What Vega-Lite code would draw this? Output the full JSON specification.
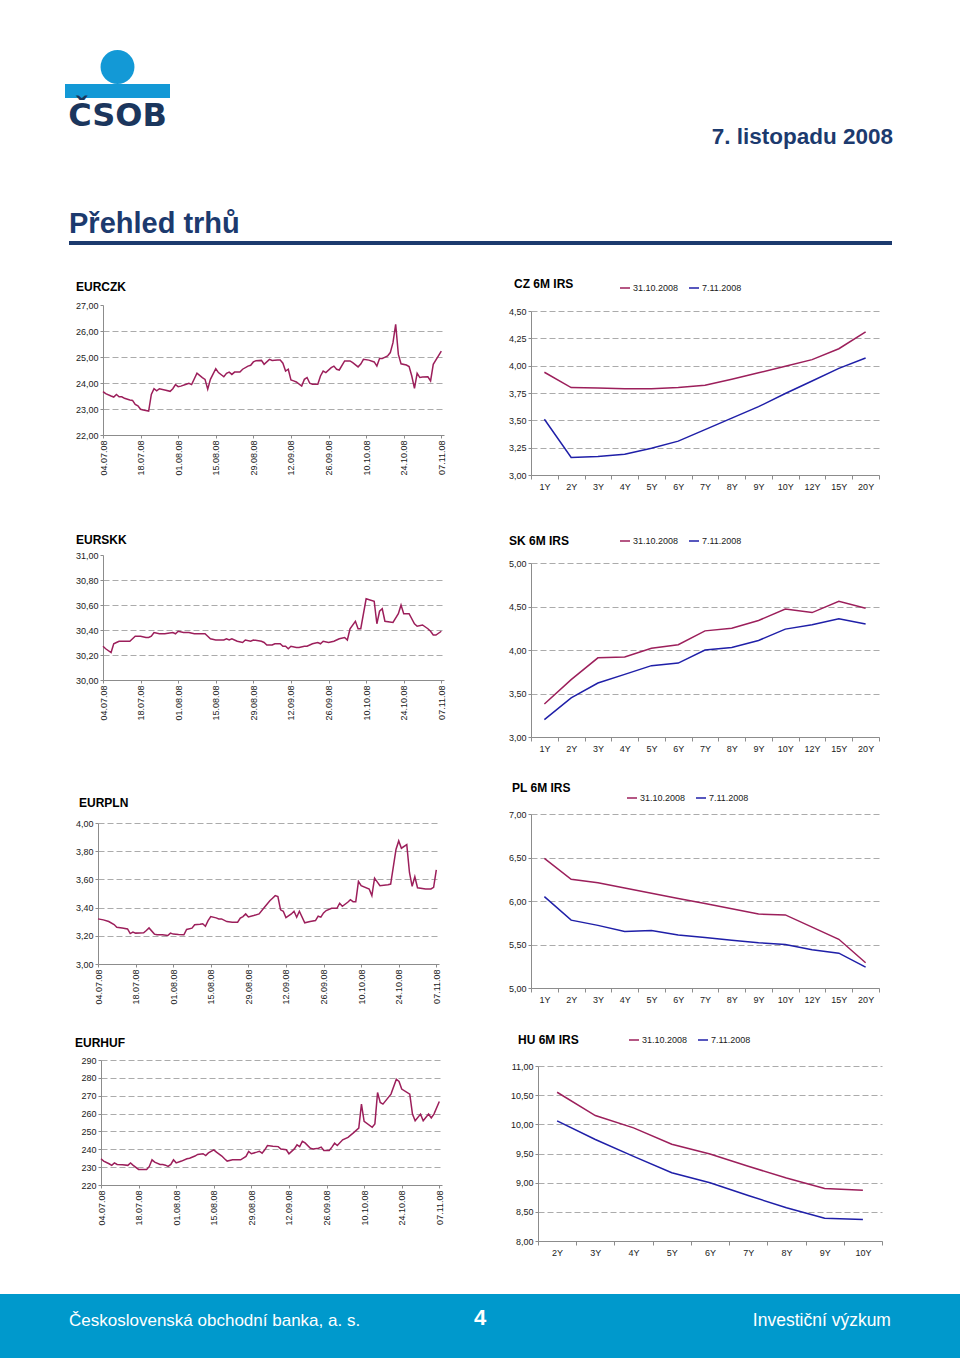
{
"$schema": "https://vega.github.io/schema/vega-lite/v6.json",
"background": "white",
"padding": {"left": 0, "top": 50, "right": 0, "bottom": 0},
"spacing": 0,
"resolve": {"scale": {"color": "independent"}, "legend": {"color": "independent"}},
"config": {
  "concat": {"spacing": 0},
  "view": {"stroke": null},
  "font": "Liberation Sans",
  "axis": {"labelFont": "Liberation Sans", "labelFontSize": 9, "labelColor": "#1a1a1a", "domainColor": "#8c8c8c", "tickColor": "#8c8c8c", "tickSize": 3, "labelPadding": 2, "gridColor": "#ababab", "gridDash": [6, 3], "gridWidth": 1},
  "title": {"font": "Liberation Sans", "fontSize": 12, "fontWeight": "bold", "anchor": "start", "color": "#000000", "frame": "group"},
  "legend": {"labelFont": "Liberation Sans", "labelFontSize": 9, "labelColor": "#1a1a1a"}
},
"datasets": {
  "eurczk": [{"d":"2008-07-04","v":23.67},{"d":"2008-07-05","v":23.59},{"d":"2008-07-07","v":23.50},{"d":"2008-07-08","v":23.46},{"d":"2008-07-09","v":23.56},{"d":"2008-07-10","v":23.47},{"d":"2008-07-11","v":23.47},{"d":"2008-07-12","v":23.41},{"d":"2008-07-14","v":23.35},{"d":"2008-07-15","v":23.33},{"d":"2008-07-16","v":23.18},{"d":"2008-07-17","v":23.12},{"d":"2008-07-18","v":22.99},{"d":"2008-07-19","v":22.96},{"d":"2008-07-21","v":22.92},{"d":"2008-07-22","v":23.56},{"d":"2008-07-23","v":23.78},{"d":"2008-07-24","v":23.70},{"d":"2008-07-25","v":23.78},{"d":"2008-07-27","v":23.73},{"d":"2008-07-29","v":23.68},{"d":"2008-07-30","v":23.78},{"d":"2008-07-31","v":23.94},{"d":"2008-08-01","v":23.86},{"d":"2008-08-02","v":23.88},{"d":"2008-08-04","v":23.95},{"d":"2008-08-05","v":23.99},{"d":"2008-08-06","v":23.94},{"d":"2008-08-08","v":24.38},{"d":"2008-08-10","v":24.21},{"d":"2008-08-11","v":24.14},{"d":"2008-08-12","v":23.76},{"d":"2008-08-13","v":24.14},{"d":"2008-08-15","v":24.55},{"d":"2008-08-16","v":24.40},{"d":"2008-08-18","v":24.24},{"d":"2008-08-19","v":24.37},{"d":"2008-08-20","v":24.42},{"d":"2008-08-21","v":24.33},{"d":"2008-08-22","v":24.42},{"d":"2008-08-24","v":24.42},{"d":"2008-08-25","v":24.53},{"d":"2008-08-27","v":24.65},{"d":"2008-08-28","v":24.68},{"d":"2008-08-29","v":24.81},{"d":"2008-08-30","v":24.86},{"d":"2008-09-01","v":24.87},{"d":"2008-09-02","v":24.72},{"d":"2008-09-04","v":24.91},{"d":"2008-09-05","v":24.87},{"d":"2008-09-07","v":24.88},{"d":"2008-09-08","v":24.88},{"d":"2008-09-09","v":24.76},{"d":"2008-09-10","v":24.46},{"d":"2008-09-11","v":24.53},{"d":"2008-09-12","v":24.12},{"d":"2008-09-13","v":24.08},{"d":"2008-09-14","v":24.04},{"d":"2008-09-16","v":23.88},{"d":"2008-09-17","v":24.14},{"d":"2008-09-18","v":24.21},{"d":"2008-09-19","v":23.99},{"d":"2008-09-20","v":23.95},{"d":"2008-09-22","v":23.95},{"d":"2008-09-23","v":24.27},{"d":"2008-09-24","v":24.46},{"d":"2008-09-25","v":24.40},{"d":"2008-09-27","v":24.59},{"d":"2008-09-28","v":24.65},{"d":"2008-09-29","v":24.53},{"d":"2008-09-30","v":24.50},{"d":"2008-10-02","v":24.85},{"d":"2008-10-04","v":24.85},{"d":"2008-10-05","v":24.78},{"d":"2008-10-07","v":24.62},{"d":"2008-10-08","v":24.73},{"d":"2008-10-09","v":24.91},{"d":"2008-10-11","v":24.88},{"d":"2008-10-13","v":24.81},{"d":"2008-10-14","v":24.65},{"d":"2008-10-15","v":24.94},{"d":"2008-10-16","v":24.94},{"d":"2008-10-18","v":25.04},{"d":"2008-10-19","v":25.17},{"d":"2008-10-20","v":25.55},{"d":"2008-10-21","v":26.26},{"d":"2008-10-22","v":25.10},{"d":"2008-10-23","v":24.74},{"d":"2008-10-25","v":24.69},{"d":"2008-10-26","v":24.63},{"d":"2008-10-27","v":24.27},{"d":"2008-10-28","v":23.79},{"d":"2008-10-29","v":24.37},{"d":"2008-10-30","v":24.21},{"d":"2008-10-31","v":24.23},{"d":"2008-11-02","v":24.24},{"d":"2008-11-03","v":24.08},{"d":"2008-11-04","v":24.72},{"d":"2008-11-07","v":25.23}],
  "eurskk": [{"d":"2008-07-04","v":30.27},{"d":"2008-07-05","v":30.25},{"d":"2008-07-07","v":30.22},{"d":"2008-07-08","v":30.29},{"d":"2008-07-09","v":30.30},{"d":"2008-07-10","v":30.31},{"d":"2008-07-12","v":30.31},{"d":"2008-07-14","v":30.31},{"d":"2008-07-15","v":30.33},{"d":"2008-07-16","v":30.35},{"d":"2008-07-18","v":30.35},{"d":"2008-07-20","v":30.34},{"d":"2008-07-21","v":30.34},{"d":"2008-07-22","v":30.35},{"d":"2008-07-23","v":30.38},{"d":"2008-07-25","v":30.37},{"d":"2008-07-27","v":30.37},{"d":"2008-07-30","v":30.38},{"d":"2008-07-31","v":30.37},{"d":"2008-08-01","v":30.39},{"d":"2008-08-03","v":30.38},{"d":"2008-08-05","v":30.38},{"d":"2008-08-07","v":30.37},{"d":"2008-08-09","v":30.37},{"d":"2008-08-11","v":30.37},{"d":"2008-08-12","v":30.35},{"d":"2008-08-13","v":30.33},{"d":"2008-08-15","v":30.32},{"d":"2008-08-16","v":30.32},{"d":"2008-08-18","v":30.32},{"d":"2008-08-19","v":30.33},{"d":"2008-08-20","v":30.32},{"d":"2008-08-21","v":30.33},{"d":"2008-08-23","v":30.31},{"d":"2008-08-25","v":30.30},{"d":"2008-08-26","v":30.32},{"d":"2008-08-28","v":30.31},{"d":"2008-08-29","v":30.32},{"d":"2008-09-01","v":30.31},{"d":"2008-09-02","v":30.30},{"d":"2008-09-03","v":30.28},{"d":"2008-09-05","v":30.28},{"d":"2008-09-06","v":30.29},{"d":"2008-09-08","v":30.29},{"d":"2008-09-09","v":30.27},{"d":"2008-09-10","v":30.27},{"d":"2008-09-11","v":30.25},{"d":"2008-09-12","v":30.27},{"d":"2008-09-14","v":30.26},{"d":"2008-09-15","v":30.26},{"d":"2008-09-17","v":30.27},{"d":"2008-09-18","v":30.27},{"d":"2008-09-20","v":30.29},{"d":"2008-09-22","v":30.30},{"d":"2008-09-23","v":30.29},{"d":"2008-09-24","v":30.31},{"d":"2008-09-26","v":30.30},{"d":"2008-09-28","v":30.31},{"d":"2008-09-30","v":30.33},{"d":"2008-10-02","v":30.34},{"d":"2008-10-03","v":30.32},{"d":"2008-10-04","v":30.41},{"d":"2008-10-06","v":30.47},{"d":"2008-10-07","v":30.41},{"d":"2008-10-08","v":30.41},{"d":"2008-10-10","v":30.65},{"d":"2008-10-13","v":30.63},{"d":"2008-10-14","v":30.45},{"d":"2008-10-15","v":30.55},{"d":"2008-10-16","v":30.57},{"d":"2008-10-17","v":30.47},{"d":"2008-10-20","v":30.46},{"d":"2008-10-22","v":30.53},{"d":"2008-10-23","v":30.60},{"d":"2008-10-24","v":30.53},{"d":"2008-10-26","v":30.53},{"d":"2008-10-28","v":30.45},{"d":"2008-10-29","v":30.43},{"d":"2008-10-31","v":30.44},{"d":"2008-11-02","v":30.41},{"d":"2008-11-03","v":30.39},{"d":"2008-11-04","v":30.36},{"d":"2008-11-05","v":30.36},{"d":"2008-11-07","v":30.39}],
  "eurpln": [{"d":"2008-07-04","v":3.320},{"d":"2008-07-06","v":3.313},{"d":"2008-07-08","v":3.301},{"d":"2008-07-10","v":3.280},{"d":"2008-07-11","v":3.261},{"d":"2008-07-13","v":3.256},{"d":"2008-07-15","v":3.249},{"d":"2008-07-16","v":3.216},{"d":"2008-07-17","v":3.226},{"d":"2008-07-18","v":3.219},{"d":"2008-07-21","v":3.221},{"d":"2008-07-22","v":3.238},{"d":"2008-07-23","v":3.256},{"d":"2008-07-25","v":3.212},{"d":"2008-07-26","v":3.207},{"d":"2008-07-28","v":3.207},{"d":"2008-07-30","v":3.202},{"d":"2008-07-31","v":3.219},{"d":"2008-08-01","v":3.212},{"d":"2008-08-03","v":3.209},{"d":"2008-08-05","v":3.207},{"d":"2008-08-06","v":3.245},{"d":"2008-08-08","v":3.254},{"d":"2008-08-09","v":3.278},{"d":"2008-08-11","v":3.282},{"d":"2008-08-12","v":3.285},{"d":"2008-08-13","v":3.268},{"d":"2008-08-14","v":3.308},{"d":"2008-08-15","v":3.336},{"d":"2008-08-17","v":3.327},{"d":"2008-08-18","v":3.320},{"d":"2008-08-19","v":3.320},{"d":"2008-08-21","v":3.301},{"d":"2008-08-23","v":3.296},{"d":"2008-08-25","v":3.296},{"d":"2008-08-26","v":3.325},{"d":"2008-08-27","v":3.336},{"d":"2008-08-28","v":3.355},{"d":"2008-08-29","v":3.334},{"d":"2008-08-31","v":3.344},{"d":"2008-09-02","v":3.355},{"d":"2008-09-04","v":3.402},{"d":"2008-09-06","v":3.449},{"d":"2008-09-07","v":3.466},{"d":"2008-09-08","v":3.485},{"d":"2008-09-09","v":3.478},{"d":"2008-09-10","v":3.384},{"d":"2008-09-11","v":3.374},{"d":"2008-09-12","v":3.329},{"d":"2008-09-14","v":3.355},{"d":"2008-09-15","v":3.374},{"d":"2008-09-16","v":3.332},{"d":"2008-09-17","v":3.374},{"d":"2008-09-19","v":3.292},{"d":"2008-09-21","v":3.301},{"d":"2008-09-23","v":3.308},{"d":"2008-09-24","v":3.339},{"d":"2008-09-25","v":3.332},{"d":"2008-09-26","v":3.362},{"d":"2008-09-27","v":3.379},{"d":"2008-09-29","v":3.395},{"d":"2008-10-01","v":3.395},{"d":"2008-10-02","v":3.431},{"d":"2008-10-03","v":3.409},{"d":"2008-10-05","v":3.438},{"d":"2008-10-06","v":3.456},{"d":"2008-10-07","v":3.442},{"d":"2008-10-08","v":3.442},{"d":"2008-10-09","v":3.586},{"d":"2008-10-10","v":3.555},{"d":"2008-10-13","v":3.532},{"d":"2008-10-14","v":3.485},{"d":"2008-10-15","v":3.609},{"d":"2008-10-17","v":3.555},{"d":"2008-10-20","v":3.562},{"d":"2008-10-21","v":3.567},{"d":"2008-10-23","v":3.814},{"d":"2008-10-24","v":3.873},{"d":"2008-10-25","v":3.821},{"d":"2008-10-27","v":3.847},{"d":"2008-10-28","v":3.649},{"d":"2008-10-29","v":3.551},{"d":"2008-10-30","v":3.619},{"d":"2008-10-31","v":3.541},{"d":"2008-11-03","v":3.532},{"d":"2008-11-05","v":3.532},{"d":"2008-11-06","v":3.544},{"d":"2008-11-07","v":3.668}],
  "eurhuf": [{"d":"2008-07-04","v":234.7},{"d":"2008-07-05","v":233.4},{"d":"2008-07-07","v":231.9},{"d":"2008-07-08","v":231.0},{"d":"2008-07-09","v":232.4},{"d":"2008-07-10","v":231.5},{"d":"2008-07-12","v":231.3},{"d":"2008-07-14","v":231.0},{"d":"2008-07-15","v":232.3},{"d":"2008-07-16","v":231.0},{"d":"2008-07-18","v":228.7},{"d":"2008-07-20","v":228.7},{"d":"2008-07-21","v":228.7},{"d":"2008-07-22","v":230.4},{"d":"2008-07-23","v":234.1},{"d":"2008-07-24","v":232.8},{"d":"2008-07-26","v":231.5},{"d":"2008-07-27","v":231.5},{"d":"2008-07-28","v":231.1},{"d":"2008-07-29","v":230.4},{"d":"2008-07-30","v":231.5},{"d":"2008-07-31","v":234.1},{"d":"2008-08-01","v":232.4},{"d":"2008-08-03","v":233.4},{"d":"2008-08-05","v":234.7},{"d":"2008-08-06","v":235.0},{"d":"2008-08-08","v":236.2},{"d":"2008-08-09","v":237.1},{"d":"2008-08-11","v":237.5},{"d":"2008-08-12","v":236.5},{"d":"2008-08-13","v":238.0},{"d":"2008-08-15","v":239.7},{"d":"2008-08-16","v":238.4},{"d":"2008-08-18","v":236.2},{"d":"2008-08-19","v":234.7},{"d":"2008-08-20","v":233.4},{"d":"2008-08-22","v":234.1},{"d":"2008-08-23","v":234.1},{"d":"2008-08-25","v":234.1},{"d":"2008-08-27","v":236.0},{"d":"2008-08-28","v":238.8},{"d":"2008-08-29","v":237.5},{"d":"2008-08-31","v":238.4},{"d":"2008-09-01","v":238.9},{"d":"2008-09-02","v":237.8},{"d":"2008-09-03","v":239.7},{"d":"2008-09-04","v":242.1},{"d":"2008-09-06","v":241.7},{"d":"2008-09-08","v":241.5},{"d":"2008-09-09","v":240.1},{"d":"2008-09-11","v":239.7},{"d":"2008-09-12","v":237.5},{"d":"2008-09-14","v":240.2},{"d":"2008-09-15","v":242.5},{"d":"2008-09-16","v":241.5},{"d":"2008-09-17","v":244.5},{"d":"2008-09-18","v":243.6},{"d":"2008-09-20","v":240.6},{"d":"2008-09-21","v":240.2},{"d":"2008-09-23","v":240.6},{"d":"2008-09-24","v":241.2},{"d":"2008-09-25","v":239.3},{"d":"2008-09-27","v":239.3},{"d":"2008-09-28","v":241.2},{"d":"2008-09-29","v":243.4},{"d":"2008-09-30","v":242.1},{"d":"2008-10-02","v":245.3},{"d":"2008-10-04","v":246.7},{"d":"2008-10-06","v":249.2},{"d":"2008-10-08","v":251.9},{"d":"2008-10-09","v":265.3},{"d":"2008-10-10","v":255.7},{"d":"2008-10-13","v":252.3},{"d":"2008-10-14","v":254.2},{"d":"2008-10-15","v":271.8},{"d":"2008-10-16","v":266.2},{"d":"2008-10-17","v":265.3},{"d":"2008-10-20","v":270.9},{"d":"2008-10-22","v":279.2},{"d":"2008-10-23","v":278.0},{"d":"2008-10-24","v":273.7},{"d":"2008-10-27","v":270.9},{"d":"2008-10-28","v":259.7},{"d":"2008-10-29","v":256.0},{"d":"2008-10-31","v":259.7},{"d":"2008-11-01","v":256.0},{"d":"2008-11-03","v":259.7},{"d":"2008-11-04","v":257.5},{"d":"2008-11-05","v":259.7},{"d":"2008-11-07","v":266.8}],
  "cz": [{"t":"1Y","s":"31.10.2008","v":3.94},{"t":"2Y","s":"31.10.2008","v":3.80},{"t":"3Y","s":"31.10.2008","v":3.795},{"t":"4Y","s":"31.10.2008","v":3.79},{"t":"5Y","s":"31.10.2008","v":3.79},{"t":"6Y","s":"31.10.2008","v":3.80},{"t":"7Y","s":"31.10.2008","v":3.82},{"t":"8Y","s":"31.10.2008","v":3.875},{"t":"9Y","s":"31.10.2008","v":3.935},{"t":"10Y","s":"31.10.2008","v":3.995},{"t":"12Y","s":"31.10.2008","v":4.055},{"t":"15Y","s":"31.10.2008","v":4.155},{"t":"20Y","s":"31.10.2008","v":4.31},
         {"t":"1Y","s":"7.11.2008","v":3.51},{"t":"2Y","s":"7.11.2008","v":3.16},{"t":"3Y","s":"7.11.2008","v":3.17},{"t":"4Y","s":"7.11.2008","v":3.19},{"t":"5Y","s":"7.11.2008","v":3.245},{"t":"6Y","s":"7.11.2008","v":3.31},{"t":"7Y","s":"7.11.2008","v":3.415},{"t":"8Y","s":"7.11.2008","v":3.52},{"t":"9Y","s":"7.11.2008","v":3.625},{"t":"10Y","s":"7.11.2008","v":3.745},{"t":"12Y","s":"7.11.2008","v":3.86},{"t":"15Y","s":"7.11.2008","v":3.975},{"t":"20Y","s":"7.11.2008","v":4.07}],
  "sk": [{"t":"1Y","s":"31.10.2008","v":3.38},{"t":"2Y","s":"31.10.2008","v":3.66},{"t":"3Y","s":"31.10.2008","v":3.91},{"t":"4Y","s":"31.10.2008","v":3.92},{"t":"5Y","s":"31.10.2008","v":4.02},{"t":"6Y","s":"31.10.2008","v":4.06},{"t":"7Y","s":"31.10.2008","v":4.22},{"t":"8Y","s":"31.10.2008","v":4.25},{"t":"9Y","s":"31.10.2008","v":4.34},{"t":"10Y","s":"31.10.2008","v":4.47},{"t":"12Y","s":"31.10.2008","v":4.43},{"t":"15Y","s":"31.10.2008","v":4.56},{"t":"20Y","s":"31.10.2008","v":4.48},
         {"t":"1Y","s":"7.11.2008","v":3.20},{"t":"2Y","s":"7.11.2008","v":3.45},{"t":"3Y","s":"7.11.2008","v":3.62},{"t":"4Y","s":"7.11.2008","v":3.72},{"t":"5Y","s":"7.11.2008","v":3.82},{"t":"6Y","s":"7.11.2008","v":3.85},{"t":"7Y","s":"7.11.2008","v":4.00},{"t":"8Y","s":"7.11.2008","v":4.03},{"t":"9Y","s":"7.11.2008","v":4.11},{"t":"10Y","s":"7.11.2008","v":4.24},{"t":"12Y","s":"7.11.2008","v":4.29},{"t":"15Y","s":"7.11.2008","v":4.36},{"t":"20Y","s":"7.11.2008","v":4.30}],
  "pl": [{"t":"1Y","s":"31.10.2008","v":6.49},{"t":"2Y","s":"31.10.2008","v":6.25},{"t":"3Y","s":"31.10.2008","v":6.21},{"t":"4Y","s":"31.10.2008","v":6.15},{"t":"5Y","s":"31.10.2008","v":6.09},{"t":"6Y","s":"31.10.2008","v":6.03},{"t":"7Y","s":"31.10.2008","v":5.97},{"t":"8Y","s":"31.10.2008","v":5.91},{"t":"9Y","s":"31.10.2008","v":5.85},{"t":"10Y","s":"31.10.2008","v":5.84},{"t":"12Y","s":"31.10.2008","v":5.70},{"t":"15Y","s":"31.10.2008","v":5.56},{"t":"20Y","s":"31.10.2008","v":5.29},
         {"t":"1Y","s":"7.11.2008","v":6.05},{"t":"2Y","s":"7.11.2008","v":5.78},{"t":"3Y","s":"7.11.2008","v":5.72},{"t":"4Y","s":"7.11.2008","v":5.65},{"t":"5Y","s":"7.11.2008","v":5.66},{"t":"6Y","s":"7.11.2008","v":5.61},{"t":"7Y","s":"7.11.2008","v":5.58},{"t":"8Y","s":"7.11.2008","v":5.55},{"t":"9Y","s":"7.11.2008","v":5.52},{"t":"10Y","s":"7.11.2008","v":5.50},{"t":"12Y","s":"7.11.2008","v":5.44},{"t":"15Y","s":"7.11.2008","v":5.40},{"t":"20Y","s":"7.11.2008","v":5.24}],
  "hu": [{"t":"2Y","s":"31.10.2008","v":10.55},{"t":"3Y","s":"31.10.2008","v":10.15},{"t":"4Y","s":"31.10.2008","v":9.94},{"t":"5Y","s":"31.10.2008","v":9.66},{"t":"6Y","s":"31.10.2008","v":9.49},{"t":"7Y","s":"31.10.2008","v":9.28},{"t":"8Y","s":"31.10.2008","v":9.08},{"t":"9Y","s":"31.10.2008","v":8.90},{"t":"10Y","s":"31.10.2008","v":8.87},
         {"t":"2Y","s":"7.11.2008","v":10.06},{"t":"3Y","s":"7.11.2008","v":9.74},{"t":"4Y","s":"7.11.2008","v":9.45},{"t":"5Y","s":"7.11.2008","v":9.17},{"t":"6Y","s":"7.11.2008","v":9.00},{"t":"7Y","s":"7.11.2008","v":8.78},{"t":"8Y","s":"7.11.2008","v":8.57},{"t":"9Y","s":"7.11.2008","v":8.39},{"t":"10Y","s":"7.11.2008","v":8.37}]
},
"vconcat": [
  {"hconcat": [
    {"width": 65, "height": 1, "data": {"values": []}, "mark": "point"},
    {"vconcat": [
      {"width": 105, "height": 34, "data": {"values": [{}]}, "mark": {"type": "point", "shape": "circle", "filled": true, "size": 1150, "color": "#1399d6", "opacity": 1}, "encoding": {}},
      {"width": 105, "height": 14, "data": {"values": []}, "mark": "point", "view": {"fill": "#1399d6", "stroke": null},
       "title": {"text": "ČSOB", "orient": "bottom", "anchor": "middle", "font": "DejaVu Sans", "fontSize": 32, "fontWeight": "bold", "color": "#1b365d", "offset": 3}}
    ]},
    {"width": 723, "height": 72, "data": {"values": []}, "mark": "point",
     "title": {"text": "7. listopadu 2008", "orient": "bottom", "anchor": "end", "font": "Liberation Sans", "fontSize": 22.5, "fontWeight": "bold", "color": "#1c3a6e", "offset": 4}}
  ]},
  {"width": 1, "height": 61, "data": {"values": []}, "mark": "point"},
  {"hconcat": [
    {"width": 69, "height": 1, "data": {"values": []}, "mark": "point"},
    {"width": 823, "height": 4, "data": {"values": []}, "mark": "point", "view": {"fill": "#1c3a6e", "stroke": null},
     "title": {"text": "Přehled trhů", "anchor": "start", "font": "Liberation Sans", "fontSize": 29, "fontWeight": "bold", "color": "#1c3a6e", "offset": 2}}
  ]},
  {"width": 1, "height": 32, "data": {"values": []}, "mark": "point"},
  {"resolve": {"scale": {"color": "independent"}, "legend": {"color": "independent"}},
   "hconcat": [
    {"width": 75, "height": 1, "data": {"values": []}, "mark": "point"},
    {"vconcat": [
      {"width": 1, "height": 4, "data": {"values": []}, "mark": "point"},
      {"width": 341, "height": 130, "title": {"text": "EURCZK", "dx": -27, "offset": 7},
       "data": {"name": "eurczk"},
       "mark": {"type": "line", "color": "#9c1f5b", "strokeWidth": 1.5},
       "encoding": {
         "x": {"field": "d", "type": "temporal", "title": null,
           "scale": {"type": "utc", "domain": [{"year": 2008, "month": 7, "date": 4, "utc": true}, {"year": 2008, "month": 11, "date": 8, "utc": true}]},
           "axis": {"values": [{"year": 2008, "month": 7, "date": 4, "utc": true}, {"year": 2008, "month": 7, "date": 18, "utc": true}, {"year": 2008, "month": 8, "date": 1, "utc": true}, {"year": 2008, "month": 8, "date": 15, "utc": true}, {"year": 2008, "month": 8, "date": 29, "utc": true}, {"year": 2008, "month": 9, "date": 12, "utc": true}, {"year": 2008, "month": 9, "date": 26, "utc": true}, {"year": 2008, "month": 10, "date": 10, "utc": true}, {"year": 2008, "month": 10, "date": 24, "utc": true}, {"year": 2008, "month": 11, "date": 7, "utc": true}],
             "format": "%d.%m.%y", "labelAngle": 270, "labelFlush": false, "labelOverlap": false, "grid": false}},
         "y": {"field": "v", "type": "quantitative", "title": null,
           "scale": {"domain": [22, 27], "nice": false, "zero": false},
           "axis": {"values": [22, 23, 24, 25, 26, 27], "labelExpr": "replace(format(datum.value, '.2f'), '.', ',')",
             "gridOpacity": {"condition": {"test": "datum.value >= 27", "value": 0}, "value": 1}}}
       }}
    ]},
    {"width": 61, "height": 1, "data": {"values": []}, "mark": "point"},
    {"resolve": {"scale": {"color": "independent"}, "legend": {"color": "independent"}},
     "vconcat": [
      {"width": 1, "height": 1, "data": {"values": []}, "mark": "point"},
      {"width": 348, "height": 164, "title": {"text": "CZ 6M IRS", "dx": -17, "offset": -9},
       "data": {"name": "cz"},
       "mark": {"type": "line", "strokeWidth": 1.5},
       "encoding": {
         "x": {"field": "t", "type": "ordinal", "title": null, "sort": ["1Y","2Y","3Y","4Y","5Y","6Y","7Y","8Y","9Y","10Y","12Y","15Y","20Y"],
           "scale": {"type": "band", "paddingInner": 0, "paddingOuter": 0},
           "axis": {"labelAngle": 0, "tickBand": "extent", "grid": false, "tickSize": 4, "labelPadding": 3}},
         "y": {"field": "v", "type": "quantitative", "title": null,
           "scale": {"domain": [3, 4.5], "nice": false, "zero": false},
           "axis": {"values": [3, 3.25, 3.5, 3.75, 4, 4.25, 4.5], "labelExpr": "replace(format(datum.value, '.2f'), '.', ',')"}},
         "color": {"field": "s", "type": "nominal", "scale": {"domain": ["31.10.2008", "7.11.2008"], "range": ["#9c1f5b", "#1f1fa8"]},
           "legend": {"orient": "none", "legendX": 88, "legendY": -29, "direction": "horizontal", "title": null, "symbolType": "stroke", "symbolSize": 100, "symbolStrokeWidth": 1.5, "labelOffset": 2, "columnPadding": 7}}
       }}
    ]}
  ]},
  {"width": 1, "height": 42, "data": {"values": []}, "mark": "point"},
  {"resolve": {"scale": {"color": "independent"}, "legend": {"color": "independent"}},
   "hconcat": [
    {"width": 75, "height": 1, "data": {"values": []}, "mark": "point"},
    {"vconcat": [
      {"width": 1, "height": 1, "data": {"values": []}, "mark": "point"},
      {"width": 341, "height": 125, "title": {"text": "EURSKK", "dx": -27, "offset": 4},
       "data": {"name": "eurskk"},
       "mark": {"type": "line", "color": "#9c1f5b", "strokeWidth": 1.5},
       "encoding": {
         "x": {"field": "d", "type": "temporal", "title": null,
           "scale": {"type": "utc", "domain": [{"year": 2008, "month": 7, "date": 4, "utc": true}, {"year": 2008, "month": 11, "date": 8, "utc": true}]},
           "axis": {"values": [{"year": 2008, "month": 7, "date": 4, "utc": true}, {"year": 2008, "month": 7, "date": 18, "utc": true}, {"year": 2008, "month": 8, "date": 1, "utc": true}, {"year": 2008, "month": 8, "date": 15, "utc": true}, {"year": 2008, "month": 8, "date": 29, "utc": true}, {"year": 2008, "month": 9, "date": 12, "utc": true}, {"year": 2008, "month": 9, "date": 26, "utc": true}, {"year": 2008, "month": 10, "date": 10, "utc": true}, {"year": 2008, "month": 10, "date": 24, "utc": true}, {"year": 2008, "month": 11, "date": 7, "utc": true}],
             "format": "%d.%m.%y", "labelAngle": 270, "labelFlush": false, "labelOverlap": false, "grid": false}},
         "y": {"field": "v", "type": "quantitative", "title": null,
           "scale": {"domain": [30, 31], "nice": false, "zero": false},
           "axis": {"values": [30, 30.2, 30.4, 30.6, 30.8, 31], "labelExpr": "replace(format(datum.value, '.2f'), '.', ',')",
             "gridOpacity": {"condition": {"test": "datum.value >= 31", "value": 0}, "value": 1}}}
       }}
    ]},
    {"width": 61, "height": 1, "data": {"values": []}, "mark": "point"},
    {"resolve": {"scale": {"color": "independent"}, "legend": {"color": "independent"}},
     "vconcat": [
      {"width": 1, "height": 2, "data": {"values": []}, "mark": "point"},
      {"width": 348, "height": 174, "title": {"text": "SK 6M IRS", "dx": -22, "offset": -13},
       "data": {"name": "sk"},
       "mark": {"type": "line", "strokeWidth": 1.5},
       "encoding": {
         "x": {"field": "t", "type": "ordinal", "title": null, "sort": ["1Y","2Y","3Y","4Y","5Y","6Y","7Y","8Y","9Y","10Y","12Y","15Y","20Y"],
           "scale": {"type": "band", "paddingInner": 0, "paddingOuter": 0},
           "axis": {"labelAngle": 0, "tickBand": "extent", "grid": false, "tickSize": 4, "labelPadding": 3}},
         "y": {"field": "v", "type": "quantitative", "title": null,
           "scale": {"domain": [3, 5], "nice": false, "zero": false},
           "axis": {"values": [3, 3.5, 4, 4.5, 5], "labelExpr": "replace(format(datum.value, '.2f'), '.', ',')"}},
         "color": {"field": "s", "type": "nominal", "scale": {"domain": ["31.10.2008", "7.11.2008"], "range": ["#9c1f5b", "#1f1fa8"]},
           "legend": {"orient": "none", "legendX": 88, "legendY": -28, "direction": "horizontal", "title": null, "symbolType": "stroke", "symbolSize": 100, "symbolStrokeWidth": 1.5, "labelOffset": 2, "columnPadding": 7}}
       }}
    ]}
  ]},
  {"width": 1, "height": 28, "data": {"values": []}, "mark": "point"},
  {"resolve": {"scale": {"color": "independent"}, "legend": {"color": "independent"}},
   "hconcat": [
    {"width": 75, "height": 1, "data": {"values": []}, "mark": "point"},
    {"vconcat": [
      {"width": 1, "height": 16, "data": {"values": []}, "mark": "point"},
      {"width": 341, "height": 141, "title": {"text": "EURPLN", "dx": -19, "offset": 9},
       "data": {"name": "eurpln"},
       "mark": {"type": "line", "color": "#9c1f5b", "strokeWidth": 1.5},
       "encoding": {
         "x": {"field": "d", "type": "temporal", "title": null,
           "scale": {"type": "utc", "domain": [{"year": 2008, "month": 7, "date": 4, "utc": true}, {"year": 2008, "month": 11, "date": 8, "utc": true}]},
           "axis": {"values": [{"year": 2008, "month": 7, "date": 4, "utc": true}, {"year": 2008, "month": 7, "date": 18, "utc": true}, {"year": 2008, "month": 8, "date": 1, "utc": true}, {"year": 2008, "month": 8, "date": 15, "utc": true}, {"year": 2008, "month": 8, "date": 29, "utc": true}, {"year": 2008, "month": 9, "date": 12, "utc": true}, {"year": 2008, "month": 9, "date": 26, "utc": true}, {"year": 2008, "month": 10, "date": 10, "utc": true}, {"year": 2008, "month": 10, "date": 24, "utc": true}, {"year": 2008, "month": 11, "date": 7, "utc": true}],
             "format": "%d.%m.%y", "labelAngle": 270, "labelFlush": false, "labelOverlap": false, "grid": false}},
         "y": {"field": "v", "type": "quantitative", "title": null,
           "scale": {"domain": [3, 4], "nice": false, "zero": false},
           "axis": {"values": [3, 3.2, 3.4, 3.6, 3.8, 4], "labelExpr": "replace(format(datum.value, '.2f'), '.', ',')"}}
       }}
    ]},
    {"width": 66, "height": 1, "data": {"values": []}, "mark": "point"},
    {"resolve": {"scale": {"color": "independent"}, "legend": {"color": "independent"}},
     "vconcat": [
      {"width": 1, "height": 1, "data": {"values": []}, "mark": "point"},
      {"width": 348, "height": 174, "title": {"text": "PL 6M IRS", "dx": -19, "offset": -3},
       "data": {"name": "pl"},
       "mark": {"type": "line", "strokeWidth": 1.5},
       "encoding": {
         "x": {"field": "t", "type": "ordinal", "title": null, "sort": ["1Y","2Y","3Y","4Y","5Y","6Y","7Y","8Y","9Y","10Y","12Y","15Y","20Y"],
           "scale": {"type": "band", "paddingInner": 0, "paddingOuter": 0},
           "axis": {"labelAngle": 0, "tickBand": "extent", "grid": false, "tickSize": 4, "labelPadding": 3}},
         "y": {"field": "v", "type": "quantitative", "title": null,
           "scale": {"domain": [5, 7], "nice": false, "zero": false},
           "axis": {"values": [5, 5.5, 6, 6.5, 7], "labelExpr": "replace(format(datum.value, '.2f'), '.', ',')"}},
         "color": {"field": "s", "type": "nominal", "scale": {"domain": ["31.10.2008", "7.11.2008"], "range": ["#9c1f5b", "#1f1fa8"]},
           "legend": {"orient": "none", "legendX": 95, "legendY": -22, "direction": "horizontal", "title": null, "symbolType": "stroke", "symbolSize": 100, "symbolStrokeWidth": 1.5, "labelOffset": 2, "columnPadding": 7}}
       }}
    ]}
  ]},
  {"width": 1, "height": 28, "data": {"values": []}, "mark": "point"},
  {"resolve": {"scale": {"color": "independent"}, "legend": {"color": "independent"}},
   "hconcat": [
    {"width": 75, "height": 1, "data": {"values": []}, "mark": "point"},
    {"vconcat": [
      {"width": 1, "height": 4, "data": {"values": []}, "mark": "point"},
      {"width": 341, "height": 125, "title": {"text": "EURHUF", "dx": -26, "offset": 6},
       "data": {"name": "eurhuf"},
       "mark": {"type": "line", "color": "#9c1f5b", "strokeWidth": 1.5},
       "encoding": {
         "x": {"field": "d", "type": "temporal", "title": null,
           "scale": {"type": "utc", "domain": [{"year": 2008, "month": 7, "date": 4, "utc": true}, {"year": 2008, "month": 11, "date": 8, "utc": true}]},
           "axis": {"values": [{"year": 2008, "month": 7, "date": 4, "utc": true}, {"year": 2008, "month": 7, "date": 18, "utc": true}, {"year": 2008, "month": 8, "date": 1, "utc": true}, {"year": 2008, "month": 8, "date": 15, "utc": true}, {"year": 2008, "month": 8, "date": 29, "utc": true}, {"year": 2008, "month": 9, "date": 12, "utc": true}, {"year": 2008, "month": 9, "date": 26, "utc": true}, {"year": 2008, "month": 10, "date": 10, "utc": true}, {"year": 2008, "month": 10, "date": 24, "utc": true}, {"year": 2008, "month": 11, "date": 7, "utc": true}],
             "format": "%d.%m.%y", "labelAngle": 270, "labelFlush": false, "labelOverlap": false, "grid": false}},
         "y": {"field": "v", "type": "quantitative", "title": null,
           "scale": {"domain": [220, 290], "nice": false, "zero": false},
           "axis": {"values": [220, 230, 240, 250, 260, 270, 280, 290], "format": "d"}}
       }}
    ]},
    {"width": 65, "height": 1, "data": {"values": []}, "mark": "point"},
    {"resolve": {"scale": {"color": "independent"}, "legend": {"color": "independent"}},
     "vconcat": [
      {"width": 1, "height": 1, "data": {"values": []}, "mark": "point"},
      {"width": 344, "height": 175, "title": {"text": "HU 6M IRS", "dx": -20, "offset": -13},
       "data": {"name": "hu"},
       "mark": {"type": "line", "strokeWidth": 1.5},
       "encoding": {
         "x": {"field": "t", "type": "ordinal", "title": null, "sort": ["2Y","3Y","4Y","5Y","6Y","7Y","8Y","9Y","10Y"],
           "scale": {"type": "band", "paddingInner": 0, "paddingOuter": 0},
           "axis": {"labelAngle": 0, "tickBand": "extent", "grid": false, "tickSize": 4, "labelPadding": 3}},
         "y": {"field": "v", "type": "quantitative", "title": null,
           "scale": {"domain": [8, 11], "nice": false, "zero": false},
           "axis": {"values": [8, 8.5, 9, 9.5, 10, 10.5, 11], "labelExpr": "replace(format(datum.value, '.2f'), '.', ',')"}},
         "color": {"field": "s", "type": "nominal", "scale": {"domain": ["31.10.2008", "7.11.2008"], "range": ["#9c1f5b", "#1f1fa8"]},
           "legend": {"orient": "none", "legendX": 90, "legendY": -32, "direction": "horizontal", "title": null, "symbolType": "stroke", "symbolSize": 100, "symbolStrokeWidth": 1.5, "labelOffset": 2, "columnPadding": 7}}
       }}
    ]}
  ]},
  {"width": 1, "height": 37, "data": {"values": []}, "mark": "point"},
  {"width": 960, "height": 64, "view": {"fill": "#0099cc", "stroke": null},
   "data": {"values": [{"slot": "l", "label": "Československá obchodní banka, a. s."}, {"slot": "c", "label": "4"}, {"slot": "r", "label": "Investiční výzkum"}]},
   "encoding": {"x": {"field": "slot", "type": "nominal", "scale": {"type": "point", "domain": ["l", "c", "r"], "padding": 0.168}, "axis": null}, "text": {"field": "label"}},
   "layer": [
     {"transform": [{"filter": "datum.slot == 'l'"}], "mark": {"type": "text", "align": "left", "baseline": "middle", "dy": -5, "color": "white", "font": "Liberation Sans", "fontSize": 17}},
     {"transform": [{"filter": "datum.slot == 'c'"}], "mark": {"type": "text", "align": "center", "baseline": "middle", "dy": -8, "color": "white", "font": "Liberation Sans", "fontSize": 22, "fontWeight": "bold"}},
     {"transform": [{"filter": "datum.slot == 'r'"}], "mark": {"type": "text", "align": "right", "baseline": "middle", "dy": -5, "color": "white", "font": "Liberation Sans", "fontSize": 17.5}}
   ]}
]
}
